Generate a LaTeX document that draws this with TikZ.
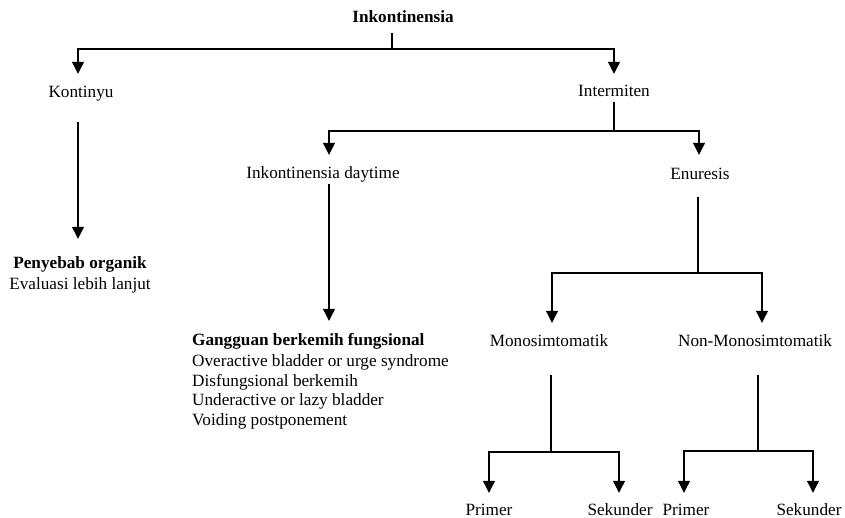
\documentclass[tikz,border=0pt]{standalone}
\usepackage{fontspec}
\setmainfont{Liberation Serif}
\usetikzlibrary{arrows.meta}
\begin{document}
\begin{tikzpicture}[x=1pt,y=-1pt,
  lbl/.style={inner sep=0pt, anchor=base, font=\fontsize{17.2}{20}\selectfont, text height=12pt, text depth=4pt},
  blbl/.style={lbl, font=\fontsize{17.2}{20}\selectfont\bfseries},
  wire/.style={line width=1.1pt},
  arr/.style={wire, -{Triangle[length=12pt,width=12pt]}}]
\useasboundingbox (0,0) rectangle (845,518);

% labels
\node[blbl] (root)  at (403,22.5)  {Inkontinensia};
\node[lbl]  (kont)  at (81,97.5)   {Kontinyu};
\node[lbl]  (inter) at (614,96.5)  {Intermiten};
\node[lbl]  (day)   at (323,178.5) {Inkontinensia daytime};
\node[lbl]  (enu)   at (700,179.5) {Enuresis};
\node[blbl] (org)   at (80,268.5)  {Penyebab organik};
\node[lbl]  (eva)   at (80,289.5)  {Evaluasi lebih lanjut};
\node[blbl, anchor=base west] (fung) at (192,345.5) {Gangguan berkemih fungsional};
\node[lbl, anchor=base west]  (f1)   at (192,366)   {Overactive bladder or urge syndrome};
\node[lbl, anchor=base west]  (f2)   at (192,386)   {Disfungsional berkemih};
\node[lbl, anchor=base west]  (f3)   at (192,405.5) {Underactive or lazy bladder};
\node[lbl, anchor=base west]  (f4)   at (192,425.5) {Voiding postponement};
\node[lbl]  (mono)  at (549,346.5) {Monosimtomatik};
\node[lbl]  (non)   at (755,346.5) {Non-Monosimtomatik};
\node[lbl]  (p1)    at (489,515.5) {Primer};
\node[lbl]  (s1)    at (620,515.5) {Sekunder};
\node[lbl]  (p2)    at (686,515.5) {Primer};
\node[lbl]  (s2)    at (809,515.5) {Sekunder};

% branch points
\coordinate (b0) at (392,49);  \coordinate (bK) at (78,49);   \coordinate (bI) at (614,49);
\coordinate (c0) at (614,131); \coordinate (cD) at (329,131); \coordinate (cE) at (699,131);
\coordinate (e0) at (698,273); \coordinate (eM) at (552,273); \coordinate (eN) at (762,273);
\coordinate (m0) at (551,452); \coordinate (mP) at (489,452); \coordinate (mS) at (619,452);
\coordinate (n0) at (758,451); \coordinate (nP) at (684,451); \coordinate (nS) at (813,451);

% Inkontinensia -> Kontinyu / Intermiten
\draw[wire, shorten <=6.5pt] (root.south -| b0) -- (b0);
\draw[arr, shorten >=11.5pt] (b0) -| (kont.north -| bK);
\draw[arr, shorten >=10.5pt] (b0) -| (inter.north -| bI);

% Kontinyu -> Penyebab organik
\draw[arr, shorten <=20.5pt, shorten >=17.5pt] (kont.south -| bK) -- (org.north -| bK);

% Intermiten -> daytime / Enuresis
\draw[wire, shorten <=1.5pt] (inter.south -| c0) -- (c0);
\draw[arr, shorten >=11.5pt] (c0) -| (day.north -| cD);
\draw[arr, shorten >=12.5pt] (c0) -| (enu.north -| cE);

% daytime -> Gangguan berkemih fungsional
\draw[arr, shorten <=1.5pt, shorten >=12.5pt] (day.south -| cD) -- (fung.north -| cD);

% Enuresis -> Mono / Non-Mono
\draw[wire, shorten <=13.5pt] (enu.south -| e0) -- (e0);
\draw[arr, shorten >=11.5pt] (e0) -| (mono.north -| eM);
\draw[arr, shorten >=11.5pt] (e0) -| (non.north -| eN);

% Monosimtomatik -> Primer / Sekunder
\draw[wire, shorten <=24.5pt] (mono.south -| m0) -- (m0);
\draw[arr, shorten >=10.5pt] (m0) -| (p1.north -| mP);
\draw[arr, shorten >=10.5pt] (m0) -| (s1.north -| mS);

% Non-Monosimtomatik -> Primer / Sekunder
\draw[wire, shorten <=24.5pt] (non.south -| n0) -- (n0);
\draw[arr, shorten >=10.5pt] (n0) -| (p2.north -| nP);
\draw[arr, shorten >=10.5pt] (n0) -| (s2.north -| nS);
\end{tikzpicture}
\end{document}
